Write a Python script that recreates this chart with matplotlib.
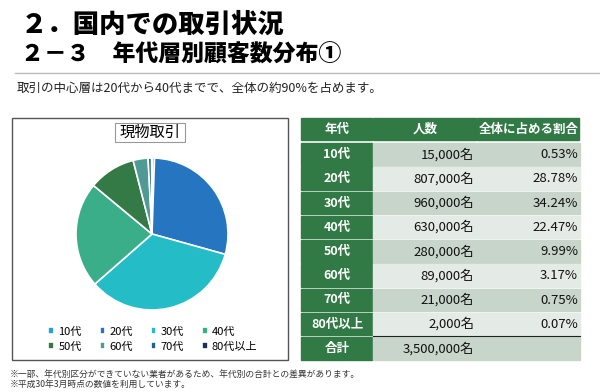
import matplotlib.pyplot as plt
from matplotlib.patches import Rectangle

plt.rcParams['font.family'] = ['Noto Sans CJK JP', 'DejaVu Sans']

# data
ages = ['10代', '20代', '30代', '40代', '50代', '60代', '70代', '80代以上']
counts = [15000, 807000, 960000, 630000, 280000, 89000, 21000, 2000]
shares = [0.53, 28.78, 34.24, 22.47, 9.99, 3.17, 0.75, 0.07]
total = 3500000
headers = ['年代', '人数', '全体に占める割合']
pie_colors = ['#2a9fd8', '#2575c0', '#24bcc6', '#3aae88',
              '#347a47', '#4f9a95', '#1f6485', '#1b2f5c']

fig = plt.figure(figsize=(6, 3.92), dpi=100)
ax = fig.add_axes([0, 0, 1, 1])
ax.set_xlim(0, 600)
ax.set_ylim(392, 0)
ax.axis('off')

# titles
ax.text(21, 24, '２．国内での取引状況', fontsize=19, fontweight='heavy', va='center')
ax.text(21, 55, '２－３　年代層別顧客数分布①', fontsize=16.5, fontweight='heavy', va='center')
ax.plot([15, 600], [73, 73], color='#bbbbbb', lw=1)
ax.text(17, 88, '取引の中心層は20代から40代までで、全体の約90%を占めます。',
        fontsize=9, va='center', color='#222222')

# pie frame
ax.add_patch(Rectangle((12, 118), 276, 242, fill=False, ec='#555555', lw=1))
ax.add_patch(Rectangle((115, 123), 70, 19, fill=False, ec='#999999', lw=0.8))
ax.text(150, 132.5, '現物取引', fontsize=11, ha='center', va='center')

# table
green = '#317a46'
dark = '#c8d5ca'
light = '#e4eae5'
xe = [301, 373, 477, 580]
for j, h in enumerate(headers):
    ax.add_patch(Rectangle((xe[j], 118), xe[j + 1] - xe[j] - 1.5, 22, color=green))
    ax.text((xe[j] + xe[j + 1]) / 2, 129, h, color='white', fontsize=9,
            fontweight='bold', ha='center', va='center')

labels = ages + ['合計']
cnt_txt = [f'{c:,}名' for c in counts] + [f'{total:,}名']
sh_txt = [f'{s:.2f}%' for s in shares] + ['']
step = 24.25
for i in range(len(labels)):
    y0 = 143 + i * step
    bg = dark if i % 2 == 0 else light
    ax.add_patch(Rectangle((xe[0], y0), xe[1] - xe[0] - 1.5, 22.5, color=green))
    ax.add_patch(Rectangle((xe[1], y0), xe[2] - xe[1] - 1.5, 22.5, color=bg))
    ax.add_patch(Rectangle((xe[2], y0), xe[3] - xe[2], 22.5, color=bg))
    yc = y0 + 11.5
    ax.text((xe[0] + xe[1]) / 2, yc, labels[i], color='white', fontsize=9,
            fontweight='bold', ha='center', va='center')
    ax.text(474, yc, cnt_txt[i], fontsize=9.5, ha='right', va='center', color='#111111')
    ax.text(578, yc, sh_txt[i], fontsize=9.5, ha='right', va='center', color='#111111')
ax.plot([373, 580], [143 + 8 * step - 1, 143 + 8 * step - 1], color='#222222', lw=0.8)

# footnotes
ax.text(10, 375, '※一部、年代別区分ができていない業者があるため、年代別の合計との差異があります。',
        fontsize=6.3, va='center', color='#333333')
ax.text(10, 384, '※平成30年3月時点の数値を利用しています。',
        fontsize=6.3, va='center', color='#333333')

# pie
pax = fig.add_axes([76 / 600, 1 - 310 / 392, 152 / 600, 152 / 392])
wedges, _ = pax.pie(counts, colors=pie_colors, startangle=90, counterclock=False,
                    wedgeprops=dict(edgecolor='white', linewidth=1.2))
pax.set_xlim(-1, 1)
pax.set_ylim(-1, 1)

order = [0, 4, 1, 5, 2, 6, 3, 7]
fig.legend([wedges[k] for k in order], [ages[k] for k in order], ncol=4,
           loc='center', bbox_to_anchor=(153 / 600, 1 - 339 / 392),
           frameon=False, fontsize=8, handlelength=0.5, handleheight=0.5,
           handletextpad=0.4, columnspacing=1.6, labelspacing=0.45)

fig.savefig('out.png', dpi=100)
